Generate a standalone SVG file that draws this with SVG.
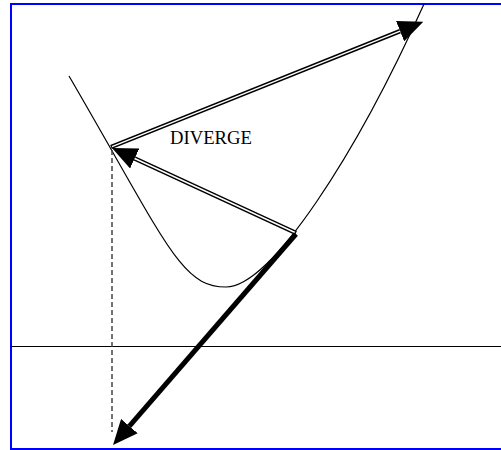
<svg xmlns="http://www.w3.org/2000/svg" width="501" height="450" viewBox="0 0 501 450">
<style>
.thin{fill:none;stroke:#000;stroke-width:1.2}
.dbl-out{fill:none;stroke:#000;stroke-width:4.5}
.dbl-in{fill:none;stroke:#fff;stroke-width:1.4}
.thick{fill:none;stroke:#000;stroke-width:5}
.dash{fill:none;stroke:#444;stroke-width:1.5;stroke-dasharray:5,3}
.lbl{font-family:"Liberation Serif","Times New Roman",serif;font-size:18.67px;fill:#000}
</style>
<defs>
<marker id="head" markerUnits="userSpaceOnUse" viewBox="0 0 25 22" refX="0" refY="11" markerWidth="25" markerHeight="22" orient="auto">
<path d="M0,0 L25,11 L0,22 z" fill="#000"/>
</marker>
</defs>
<rect x="11" y="4" width="500" height="445" fill="#fff" stroke="#0000ff" stroke-width="2"/>
<g id="axis">
<line x1="11" y1="346.5" x2="501" y2="346.5" stroke="#000" stroke-width="1.2"/>
</g>
<g id="curve">
<path class="thin" d="M69,76 C168,246 181,287 226,287 C271,287 356.5,154 424,4"/>
</g>
<g id="label">
<text class="lbl" x="170" y="144">DIVERGE</text>
</g>
<g id="connectors">
<line class="dash" x1="112" y1="150" x2="112" y2="432"/>
<line class="dbl-out" x1="296" y1="233" x2="134.7" y2="158.5" marker-end="url(#head)"/>
<line class="dbl-in" x1="295" y1="232.5" x2="134.7" y2="158.5"/>
<line class="dbl-out" x1="111" y1="147" x2="400.1" y2="31.1" marker-end="url(#head)"/>
<line class="dbl-in" x1="112" y1="146.6" x2="400.1" y2="31.1"/>
<line class="thick" x1="296" y1="234" x2="129.4" y2="426.1" marker-end="url(#head)"/>
</g>
</svg>
